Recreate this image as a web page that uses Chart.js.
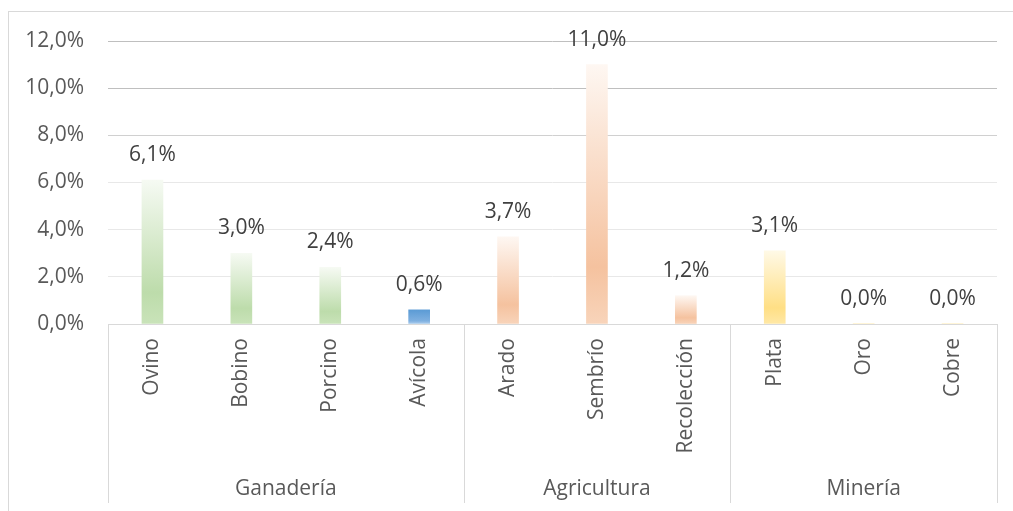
<!DOCTYPE html>
<html>
<head>
<meta charset="utf-8">
<script src="https://cdn.jsdelivr.net/npm/chart.js@4.4.1/dist/chart.umd.min.js"></script>
<style>
  html, body { margin: 0; padding: 0; background: #ffffff; }
  #wrap { position: relative; width: 1013px; height: 511px; overflow: hidden; }
  canvas { display: block; }
</style>
</head>
<body>
<div id="wrap"><canvas id="c" width="1013" height="511"></canvas></div>
<script>
const categories = ['Ovino', 'Bobino', 'Porcino', 'Avícola', 'Arado', 'Sembrío', 'Recolección', 'Plata', 'Oro', 'Cobre'];
const groupNames = ['Ganadería', 'Agricultura', 'Minería'];
const groupSizes = [4, 3, 3];
const values = [6.1, 3.0, 2.4, 0.6, 3.7, 11.0, 1.2, 3.1, 0.0, 0.0];
const yTicks = [0, 2, 4, 6, 8, 10, 12];

const FONT = '"Open Sans", "Noto Sans", sans-serif';
const TXT = '#595959';
const FS = 21;

// gradient palettes (top -> bottom) per category
const palettes = [
  ['#f6faf3', '#bddcab', '#c9e3b9'],
  ['#f6faf3', '#bddcab', '#c9e3b9'],
  ['#f6faf3', '#bddcab', '#c9e3b9'],
  ['#5b9bd5', '#7fb0e0', '#b0d0ee'],
  ['#fef7f2', '#f5c29f', '#f8d4ba'],
  ['#fef7f2', '#f5c29f', '#f8d4ba'],
  ['#fef7f2', '#f5c29f', '#f8d4ba'],
  ['#fff9e6', '#ffdf85', '#ffe8a6'],
  ['#fff9e6', '#ffdf85', '#ffe8a6'],
  ['#fff9e6', '#ffdf85', '#ffe8a6']
];

function fmt(v) { return v.toFixed(1).replace('.', ',') + '%'; }

function barFill(ctx) {
  const chart = ctx.chart;
  const y = chart.scales && chart.scales.y;
  if (!y || ctx.type !== 'data') return palettes[0][1];
  const i = ctx.dataIndex;
  const top = y.getPixelForValue(values[i]);
  const bot = y.getPixelForValue(0);
  if (!isFinite(top) || !isFinite(bot) || Math.abs(bot - top) < 1) return palettes[i][1];
  const g = chart.ctx.createLinearGradient(0, top, 0, bot);
  const p = palettes[i];
  g.addColorStop(0, p[0]);
  g.addColorStop(0.78, p[1]);
  g.addColorStop(1, p[2]);
  return g;
}

const decor = {
  id: 'decor',
  beforeDraw(chart) {
    const c = chart.ctx;
    c.save();
    c.strokeStyle = '#d9d9d9';
    c.lineWidth = 1;
    c.strokeRect(8.5, 11.5, 1100, 600);
    c.restore();
  },
  afterDraw(chart) {
    const c = chart.ctx;
    const x = chart.scales.x;
    const y = chart.scales.y;
    const area = chart.chartArea;
    c.save();
    // data labels
    c.font = FS + 'px ' + FONT;
    c.fillStyle = '#404040';
    c.textAlign = 'center';
    c.textBaseline = 'middle';
    values.forEach((v, i) => {
      c.fillText(fmt(v), x.getPixelForValue(i), y.getPixelForValue(v) - 25);
    });
    // group separators and labels
    c.strokeStyle = '#d9d9d9';
    c.lineWidth = 1;
    const yTop = area.bottom;
    const yBot = 503;
    let start = 0;
    const edges = [];
    const half = (x.getPixelForValue(1) - x.getPixelForValue(0)) / 2;
    edges.push(x.getPixelForValue(0) - half);
    groupSizes.forEach((n, gi) => {
      const end = start + n - 1;
      const left = x.getPixelForValue(start) - half;
      const right = x.getPixelForValue(end) + half;
      edges.push(right);
      c.fillStyle = TXT;
      c.font = FS + 'px ' + FONT;
      c.fillText(groupNames[gi], (left + right) / 2, 489);
      start += n;
    });
    edges.forEach(ex => {
      const px = Math.round(ex) + 0.5;
      c.beginPath();
      c.moveTo(px, yTop);
      c.lineTo(px, yBot);
      c.stroke();
    });
    c.restore();
  }
};

function gridColor(ctx) {
  const v = ctx.tick ? ctx.tick.value : 0;
  if (v === 0) return '#d9d9d9';
  if (v >= 10) return '#bfbfbf';
  if (v >= 8) return '#d0d0d0';
  return '#e8e8e8';
}

function build() {
  new Chart(document.getElementById('c'), {
    type: 'bar',
    data: {
      labels: categories,
      datasets: [{
        data: values,
        backgroundColor: barFill,
        borderWidth: 0,
        barThickness: 21
      }]
    },
    options: {
      responsive: false,
      animation: false,
      devicePixelRatio: 1,
      layout: { padding: { left: 0, top: 41, right: 16, bottom: 0 } },
      plugins: { legend: { display: false }, tooltip: { enabled: false } },
      scales: {
        x: {
          type: 'category',
          grid: { display: false, drawTicks: false },
          border: { display: true, color: '#d9d9d9', width: 1 },
          ticks: {
            minRotation: 90, maxRotation: 90, autoSkip: false,
            padding: 14, color: TXT, font: { family: FONT, size: FS }
          },
          afterFit(s) { s.height = 187; }
        },
        y: {
          min: 0, max: 12,
          afterBuildTicks(s) { s.ticks = yTicks.map(v => ({ value: v })); },
          grid: { color: gridColor, drawTicks: false, lineWidth: 1 },
          border: { display: false },
          ticks: {
            padding: 24, color: TXT, font: { family: FONT, size: FS },
            callback: v => fmt(v)
          },
          afterFit(s) { s.width = 108; }
        }
      }
    },
    plugins: [decor]
  });
}

if (document.fonts && document.fonts.load) {
  document.fonts.load(FS + 'px "Open Sans"').then(build, build);
} else { build(); }
</script>
</body>
</html>
